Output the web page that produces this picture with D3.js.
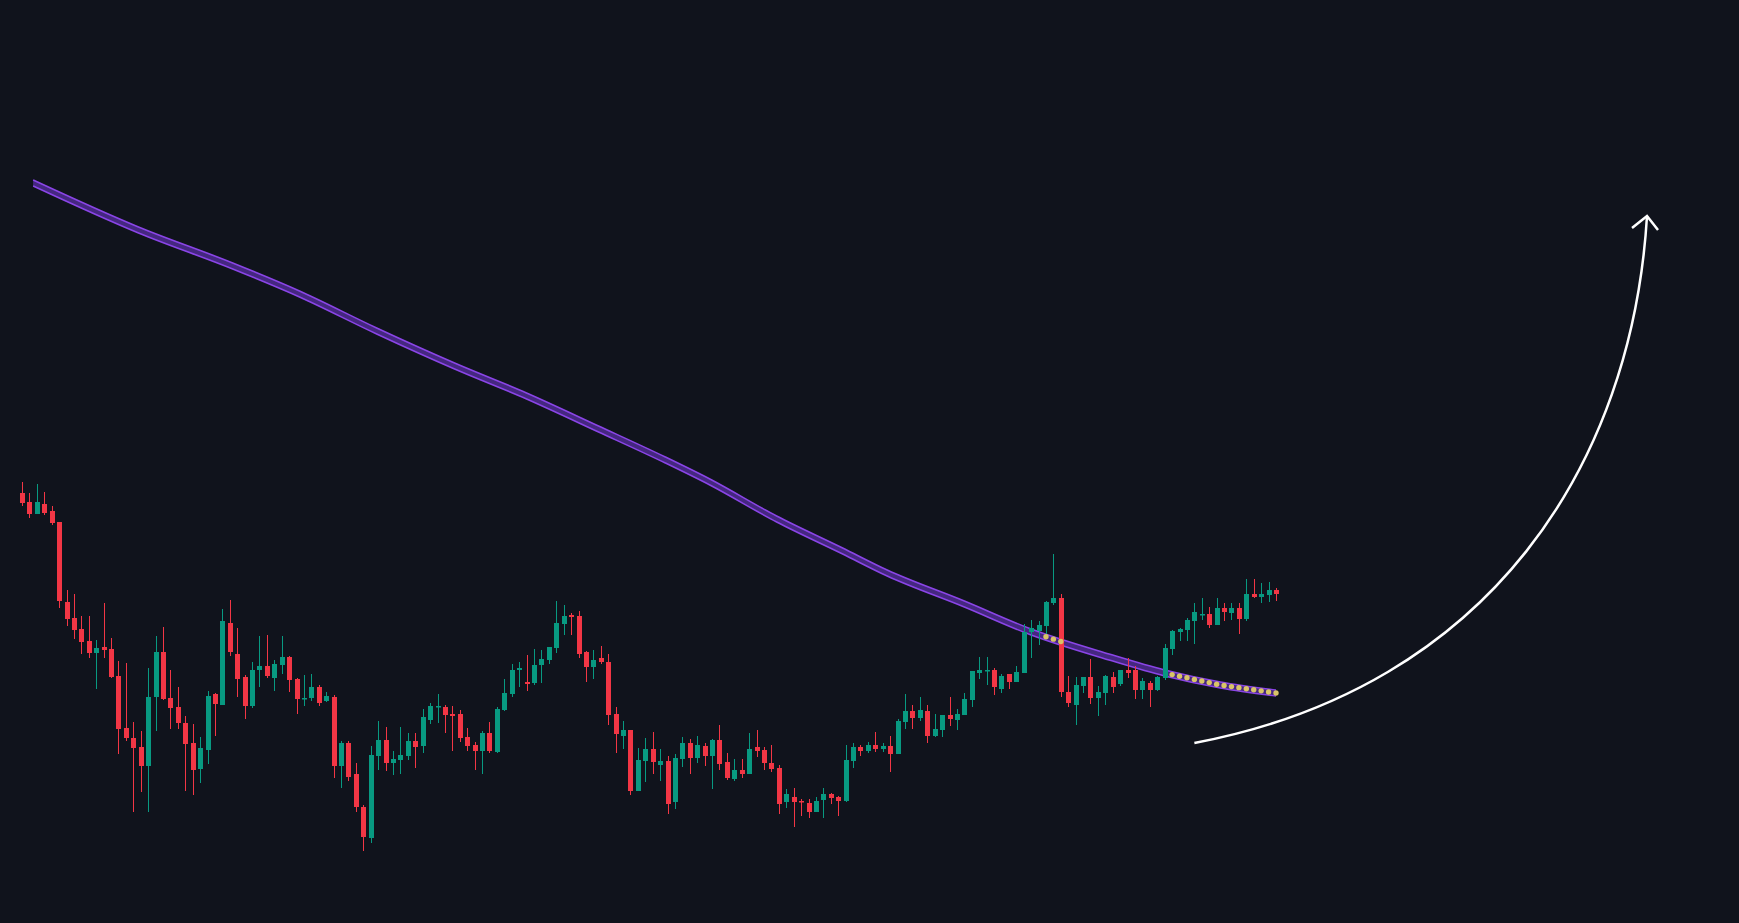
<!DOCTYPE html>
<html>
<head>
<meta charset="utf-8">
<script src="https://cdn.jsdelivr.net/npm/d3@7"></script>
<style>
  html, body { margin: 0; padding: 0; background: #10131c; overflow: hidden; }
</style>
</head>
<body>
<svg id="chart"></svg>
<script>
const W = 1739, H = 923;

// OHLC, price units (no axis shown)
const opens = [430,421,409,419,412,401,321,305,294,282,270,276,274,247,195,185,176,157,226,271,
  225,216,200,180,154,173,229,218,300,269,246,217,253,257,245,258,266,244,224,225,
  236,222,226,157,180,149,116,85,167,183,160,163,167,182,177,203,216,216,209,209,
  186,178,172,190,171,213,229,253,241,240,258,263,275,299,308,307,271,256,265,261,
  209,187,193,132,162,174,158,162,121,164,180,165,177,167,183,161,144,153,149,176,
  173,160,155,121,126,122,120,111,123,129,126,122,162,176,172,178,174,177,169,201,
  212,205,212,187,193,208,203,208,223,250,252,253,234,249,241,250,291,292,297,320,
  325,231,218,237,246,225,230,246,239,253,253,233,240,233,245,274,291,293,302,308,
  309,298,315,310,315,304,329,326,328,333];
const highs = [441,430,439,431,417,401,333,329,307,307,283,320,285,262,260,201,192,255,287,296,
  253,236,207,199,186,232,230,314,323,295,248,261,287,288,263,287,267,245,248,249,
  238,231,228,182,182,160,118,177,202,196,172,196,190,190,214,220,229,218,217,213,
  195,181,192,201,216,244,259,261,268,274,273,276,322,318,310,312,272,273,277,269,
  216,202,193,175,185,191,174,167,169,186,184,187,180,184,198,170,164,164,190,193,
  176,178,158,134,135,124,124,126,135,130,127,178,180,178,181,191,180,187,204,229,
  218,226,218,209,208,226,214,230,252,266,266,255,249,249,257,299,303,302,322,369,
  329,247,246,246,264,237,248,251,253,265,257,245,242,247,279,293,295,305,320,325,
  316,325,320,320,320,344,344,340,341,335];
const lows = [417,405,409,408,398,315,297,284,269,265,234,265,245,169,182,111,131,111,192,223,
  194,194,132,128,140,159,187,218,267,226,204,215,236,245,232,249,231,209,217,222,
  217,221,145,135,142,111,72,80,153,152,148,149,163,155,170,199,200,190,172,181,
  172,153,149,170,170,212,226,236,232,238,240,259,270,288,288,265,241,244,259,198,
  170,174,128,132,141,149,142,109,114,156,149,160,157,134,153,143,142,145,149,166,
  153,151,109,115,96,107,105,111,105,119,107,121,155,167,170,171,171,151,169,194,
  194,202,180,186,186,197,193,208,216,244,238,228,230,234,241,250,265,278,289,318,
  226,216,198,230,219,207,218,230,237,245,224,224,216,232,243,268,282,282,279,303,
  295,298,302,303,289,302,325,320,321,322];
const closes = [420,409,421,410,400,322,304,293,281,270,275,273,246,194,185,175,157,226,271,224,
  215,200,179,153,175,227,219,302,271,244,217,253,257,247,259,266,243,224,225,236,
  220,227,157,180,146,116,86,168,183,160,164,168,182,176,206,217,217,208,207,185,
  177,172,190,172,214,230,253,255,239,258,264,276,300,307,306,269,256,263,261,208,
  189,193,132,163,174,161,162,119,165,180,165,178,167,183,159,145,153,149,174,172,
  160,154,119,129,121,121,111,122,129,125,122,163,176,172,178,174,177,169,202,212,
  205,213,187,194,208,204,209,224,252,253,253,236,247,241,251,291,295,298,321,325,
  231,220,238,246,225,231,247,236,253,250,233,242,233,246,275,292,294,303,311,309,
  298,315,311,315,304,329,326,329,333,329];

// moving average, sampled at candle indices
const maIndex = [1.5,15.7,28.4,37.4,47.8,58.3,68,77.7,86.7,92.7,101.7,110.6,116.6,127,136,146.5,154,161.5,169];
const maValue = [740,693,657,629,592,557,527,494,463,441,404,372,350,319,291,266,250,238,230];

// candles where the price touches the average (yellow markers)
const touchIdx = [138,139,140,155,156,157,158,159,160,161,162,163,164,165,166,167,168,169];

// annotation arrow, in index / price space
const arrowPts = [[158,180],[198,236],[217,460],[219,707]];

const candles = opens.map((o, i) => ({i, o, h: highs[i], l: lows[i], c: closes[i]}));

const x = d3.scaleLinear().domain([0, 169]).range([22, 1276]);
const y = d3.scaleLinear().domain([0, 923]).range([923, 0]);

const svg = d3.select("#chart").attr("width", W).attr("height", H);
svg.append("rect").attr("width", W).attr("height", H).attr("fill", "#10131c");

const UP = "#089981", DOWN = "#f23645";

//Moving average band
const maPts = maIndex.map((d, k) => [d, maValue[k]]);
const band = d3.area()
  .x(d => x(d[0]))
  .y0(d => y(d[1]) - 3)
  .y1(d => y(d[1]) + 3)
  .curve(d3.curveMonotoneX);
svg.append("path").attr("d", band(maPts)).attr("fill", "#4b2a8c").attr("opacity", 0.9);
[-3, 3].forEach(off => {
  svg.append("path")
    .attr("d", d3.line().x(d => x(d[0])).y(d => y(d[1]) + off).curve(d3.curveMonotoneX)(maPts))
    .attr("fill", "none")
    .attr("stroke", "#8a45e6")
    .attr("stroke-width", 1.6);
});

//Candles
const g = svg.append("g");
g.selectAll("line.wick")
  .data(candles)
  .join("line")
  .attr("x1", d => Math.round(x(d.i)) + 0.5)
  .attr("x2", d => Math.round(x(d.i)) + 0.5)
  .attr("y1", d => y(d.h))
  .attr("y2", d => y(d.l))
  .attr("stroke", d => d.c >= d.o ? UP : DOWN)
  .attr("stroke-width", 1);
g.selectAll("rect.body")
  .data(candles)
  .join("rect")
  .attr("x", d => Math.round(x(d.i)) - 2)
  .attr("width", 5)
  .attr("y", d => y(Math.max(d.o, d.c)))
  .attr("height", d => Math.max(1.5, Math.abs(y(d.o) - y(d.c))))
  .attr("fill", d => d.c >= d.o ? UP : DOWN);

//Touch markers on the average
const maAt = i => {
  let k = d3.bisectRight(maIndex, i) - 1;
  k = Math.max(0, Math.min(maIndex.length - 2, k));
  const t = (i - maIndex[k]) / (maIndex[k + 1] - maIndex[k]);
  return maValue[k] + t * (maValue[k + 1] - maValue[k]);
};
svg.selectAll("circle.touch")
  .data(touchIdx)
  .join("circle")
  .attr("cx", d => x(d))
  .attr("cy", d => y(maAt(d)))
  .attr("r", 2.7)
  .attr("fill", "#d9c467");

//Arrow
const [p0, p1, p2, p3] = arrowPts.map(d => [x(d[0]), y(d[1])]);
const path = d3.path();
path.moveTo(...p0);
path.bezierCurveTo(...p1, ...p2, ...p3);
svg.append("path").attr("d", path.toString())
  .attr("fill", "none").attr("stroke", "#ffffff").attr("stroke-width", 2.5);
svg.append("path")
  .attr("d", `M${p3[0] - 15},${p3[1] + 12} L${p3[0]},${p3[1]} L${p3[0] + 11},${p3[1] + 14}`)
  .attr("fill", "none").attr("stroke", "#ffffff").attr("stroke-width", 2.5)
  .attr("stroke-linejoin", "miter");
</script>
</body>
</html>
